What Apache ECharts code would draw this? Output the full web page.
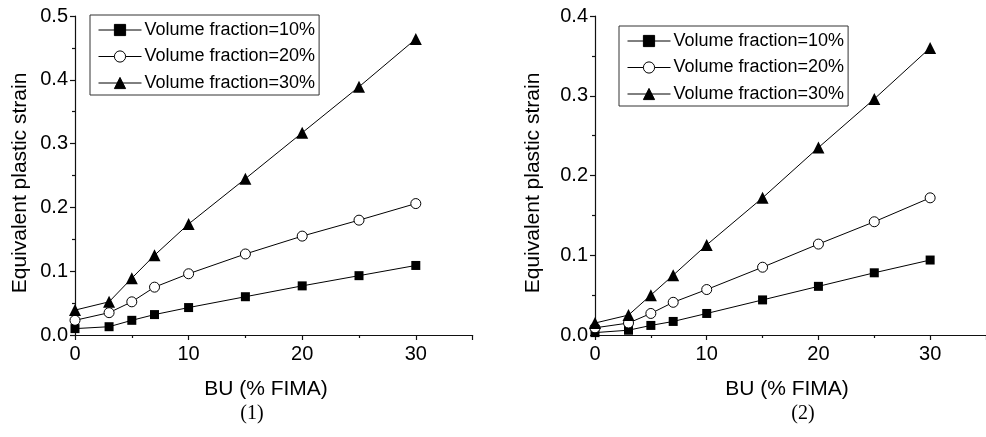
<!DOCTYPE html>
<html>
<head>
<meta charset="utf-8">
<script src="https://cdn.jsdelivr.net/npm/echarts@6/dist/echarts.min.js"></script>
<style>
  html, body { margin: 0; padding: 0; background: #fff; }
  #chart { width: 986px; height: 437px; }
</style>
</head>
<body>
<div id="chart"></div>
<script>
// Burn-up values (% FIMA) shared by both panels
const burnup = [0, 3, 5, 7, 10, 15, 20, 25, 30];
const seriesNames = ['Volume fraction=10%', 'Volume fraction=20%', 'Volume fraction=30%'];

// Panel (1): equivalent plastic strain
const panel1_vf10 = [0.010, 0.013, 0.023, 0.032, 0.043, 0.060, 0.077, 0.093, 0.109];
const panel1_vf20 = [0.023, 0.035, 0.052, 0.075, 0.096, 0.127, 0.155, 0.180, 0.206];
const panel1_vf30 = [0.039, 0.052, 0.089, 0.125, 0.174, 0.245, 0.317, 0.389, 0.464];

// Panel (2): equivalent plastic strain
const panel2_vf10 = [0.003, 0.006, 0.012, 0.017, 0.027, 0.044, 0.061, 0.078, 0.094];
const panel2_vf20 = [0.009, 0.015, 0.027, 0.041, 0.057, 0.085, 0.114, 0.142, 0.172];
const panel2_vf30 = [0.015, 0.025, 0.050, 0.075, 0.113, 0.172, 0.235, 0.296, 0.360];

const panelCaptions = ['(1)', '(2)'];
const xAxisTitle = 'BU (% FIMA)';
const yAxisTitle = 'Equivalent plastic strain';

const FONT = 'Liberation Sans, Arial, sans-serif';
const INK = '#111';

const symbolStyles = [
  { symbol: 'rect', symbolSize: 9, itemStyle: { color: '#000', borderColor: '#000', borderWidth: 0 } },
  { symbol: 'circle', symbolSize: 10, itemStyle: { color: '#fff', borderColor: '#000', borderWidth: 1 } },
  { symbol: 'triangle', symbolSize: 12, itemStyle: { color: '#000', borderColor: '#000', borderWidth: 0 } }
];

function pairs(ys) {
  return burnup.map((x, i) => [x, ys[i]]);
}

function makeSeries(idx, values, k) {
  return Object.assign({
    type: 'line',
    name: seriesNames[k],
    xAxisIndex: idx,
    yAxisIndex: idx,
    data: pairs(values),
    showSymbol: true,
    animation: false,
    lineStyle: { color: '#000', width: 1 },
    z: 2 + k
  }, symbolStyles[k]);
}

function xAxisFor(idx) {
  return {
    type: 'value',
    gridIndex: idx,
    min: 0, max: 35, interval: 10,
    axisLine: { show: true, lineStyle: { color: INK, width: 1.2 } },
    axisTick: { show: true, inside: false, length: 5, lineStyle: { color: INK, width: 1.2 } },
    minorTick: { show: true, splitNumber: 2, length: 3, lineStyle: { color: INK, width: 1.2 } },
    axisLabel: {
      color: '#000', fontSize: 20, fontFamily: FONT, margin: 9,
      showMaxLabel: false
    },
    splitLine: { show: false }
  };
}

function yAxisFor(idx, max) {
  return {
    type: 'value',
    gridIndex: idx,
    min: 0, max: max, interval: 0.1,
    axisLine: { show: true, onZero: false, lineStyle: { color: INK, width: 1.2 } },
    axisTick: { show: true, inside: false, length: 5, lineStyle: { color: INK, width: 1.2 } },
    minorTick: { show: true, splitNumber: 2, length: 3, lineStyle: { color: INK, width: 1.2 } },
    axisLabel: {
      color: '#000', fontSize: 20, fontFamily: FONT, margin: 7,
      formatter: v => v.toFixed(1)
    },
    splitLine: { show: false }
  };
}

function legendFor(left, top) {
  return {
    data: seriesNames,
    orient: 'vertical',
    left: left, top: top,
    itemWidth: 43, itemHeight: 14, itemGap: 8.5,
    padding: [6, 4, 3, 8],
    borderColor: '#333', borderWidth: 1, borderRadius: 0,
    backgroundColor: '#fff',
    itemStyle: { borderWidth: 1 },
    lineStyle: { width: 1 },
    textStyle: { color: '#000', fontSize: 18, fontFamily: FONT, padding: [0, 0, 0, -2] },
    selectedMode: false
  };
}

function axisTitleText(x, y, text, rotate) {
  return {
    type: 'text',
    x: x, y: y,
    rotation: rotate ? Math.PI / 2 : 0,
    style: {
      text: text, fill: '#000', font: '21px ' + FONT,
      align: 'center', verticalAlign: 'middle'
    }
  };
}

function captionText(x, y, text) {
  return {
    type: 'text',
    x: x, y: y,
    style: {
      text: text, fill: '#000', font: '20px "Liberation Serif", "Times New Roman", serif',
      align: 'center', verticalAlign: 'middle'
    }
  };
}

const chart = echarts.init(document.getElementById('chart'), null, { renderer: 'canvas' });

chart.setOption({
  backgroundColor: '#fff',
  animation: false,
  grid: [
    { left: 75, top: 16, width: 397.6, height: 319, containLabel: false },
    { left: 595, top: 16, width: 397, height: 319, containLabel: false }
  ],
  xAxis: [xAxisFor(0), xAxisFor(1)],
  yAxis: [yAxisFor(0, 0.5), yAxisFor(1, 0.4)],
  legend: [legendFor(90, 15), legendFor(619, 26)],
  series: [
    makeSeries(0, panel1_vf10, 0),
    makeSeries(0, panel1_vf20, 1),
    makeSeries(0, panel1_vf30, 2),
    makeSeries(1, panel2_vf10, 0),
    makeSeries(1, panel2_vf20, 1),
    makeSeries(1, panel2_vf30, 2)
  ],
  graphic: [
    axisTitleText(20, 183, yAxisTitle, true),
    axisTitleText(533, 183, yAxisTitle, true),
    axisTitleText(266, 389, xAxisTitle, false),
    axisTitleText(787, 389, xAxisTitle, false),
    captionText(252, 414, panelCaptions[0]),
    captionText(803, 414, panelCaptions[1])
  ]
});
</script>
</body>
</html>
